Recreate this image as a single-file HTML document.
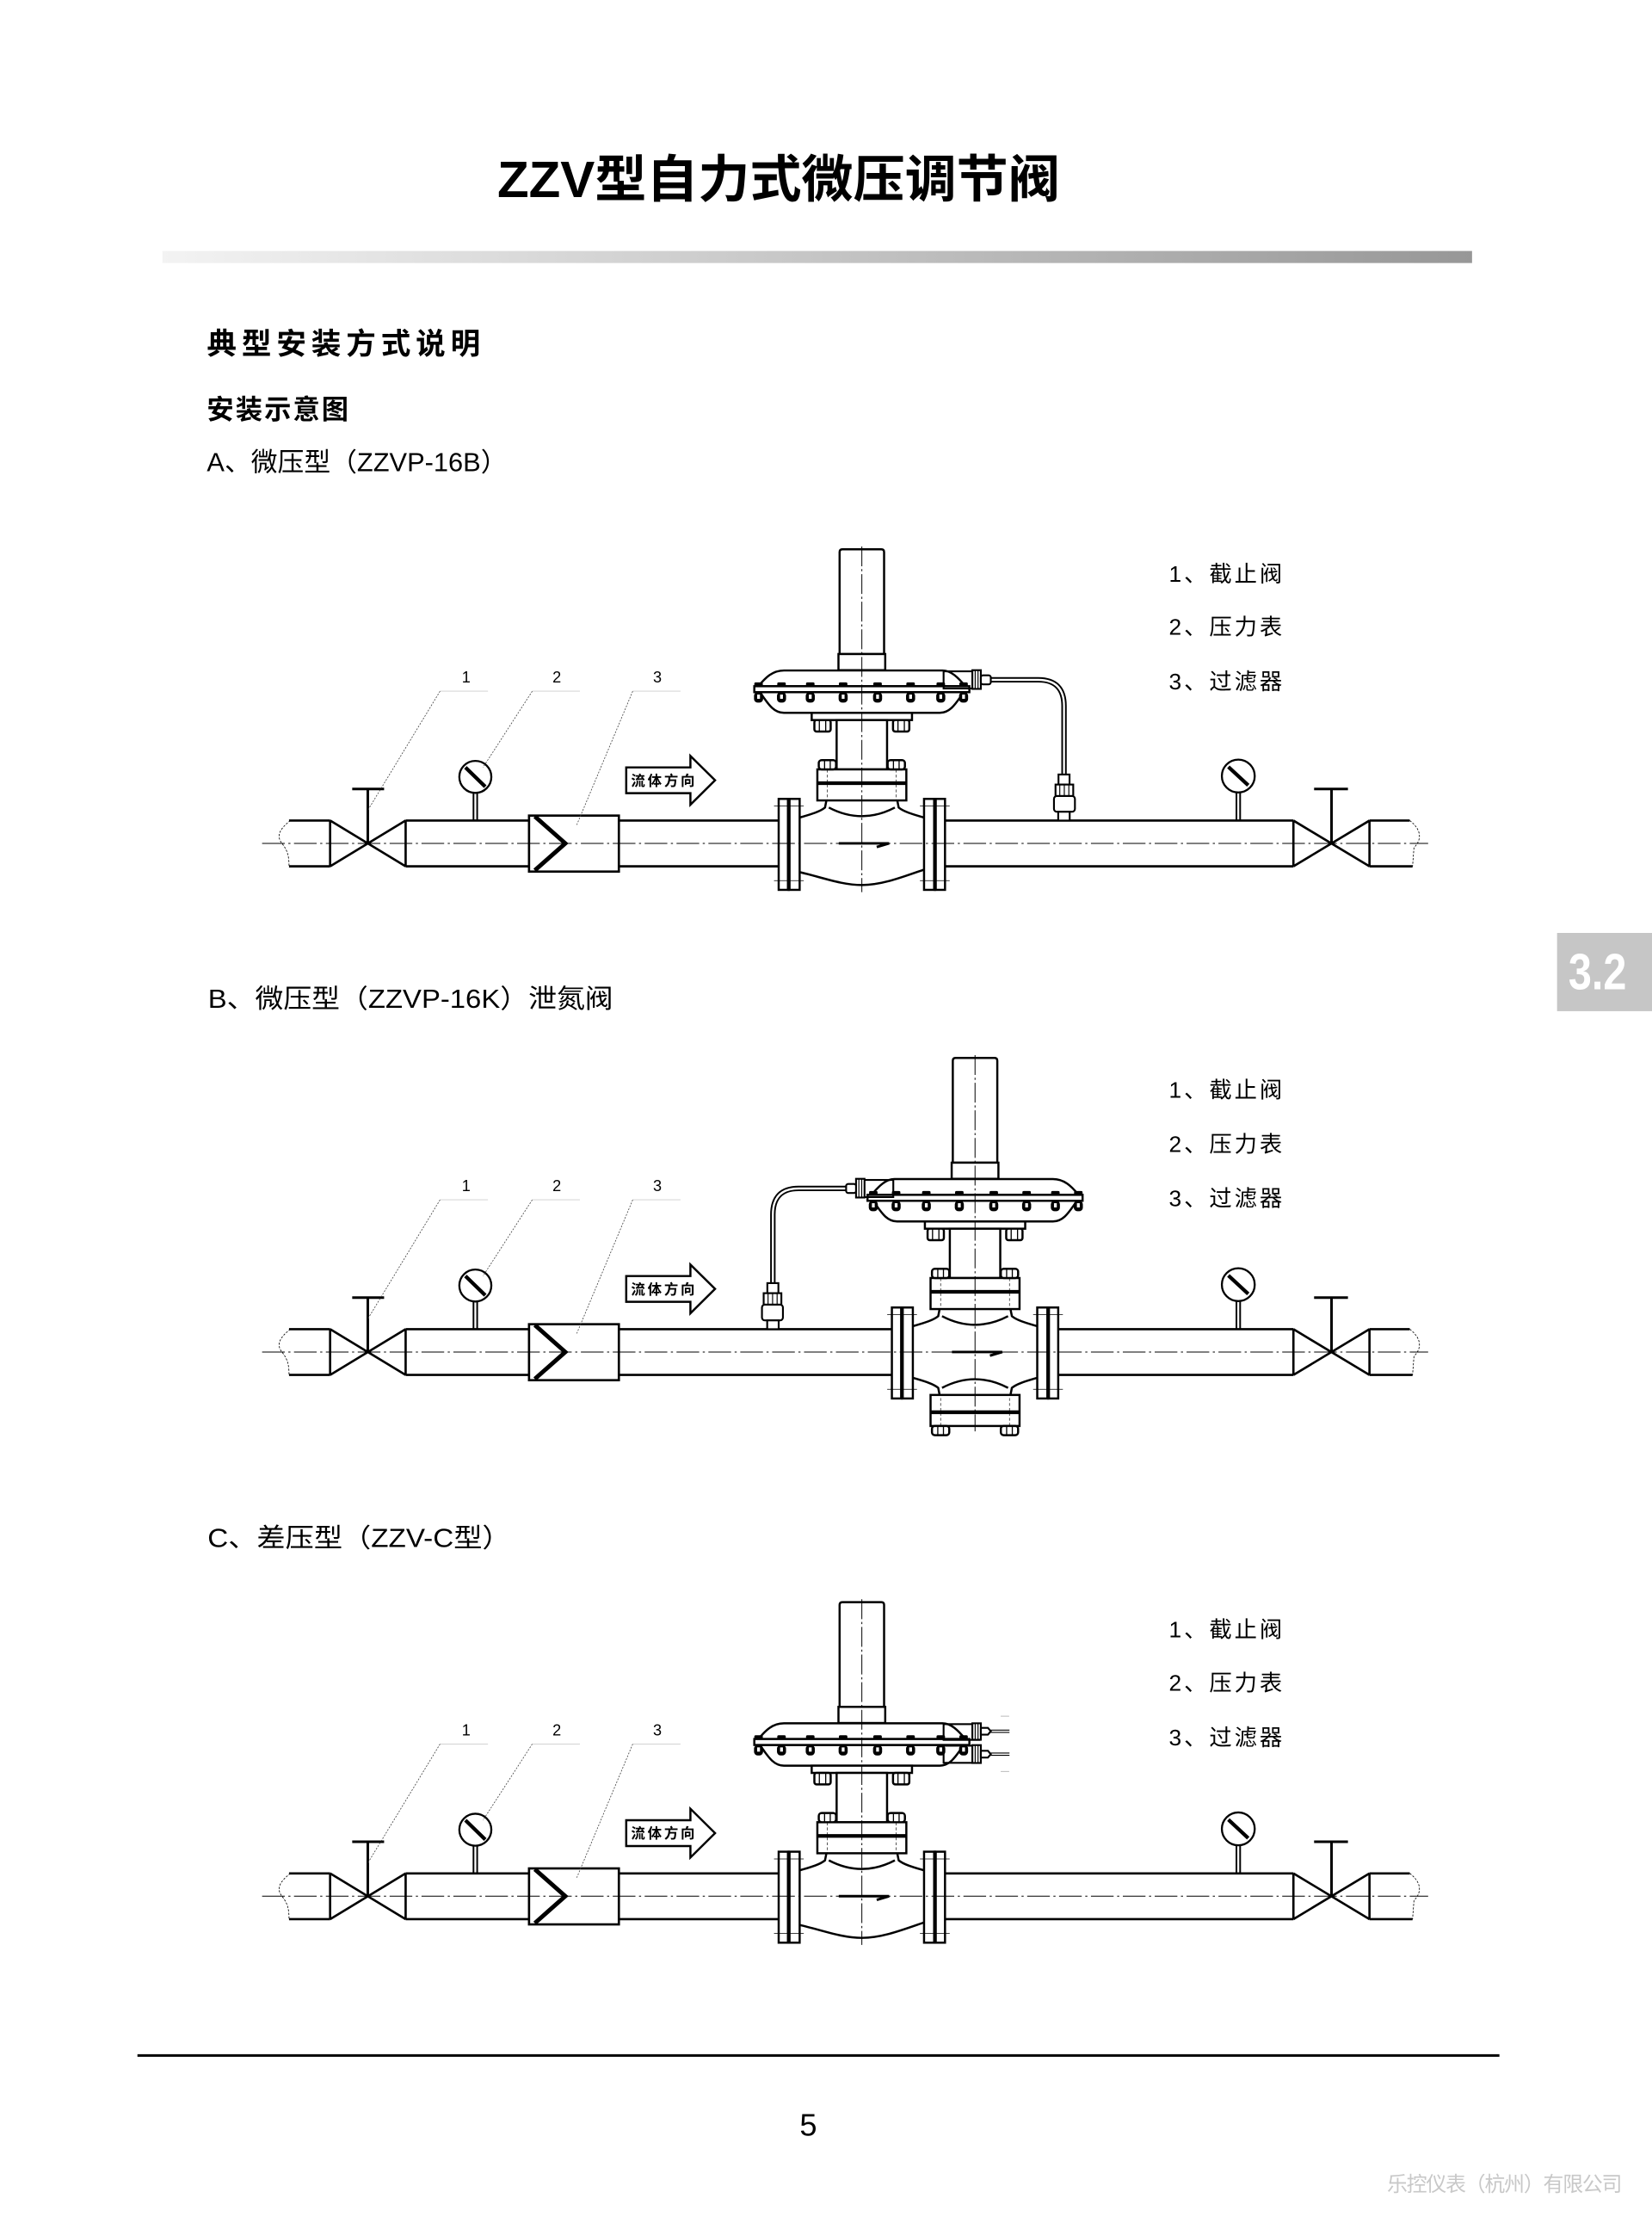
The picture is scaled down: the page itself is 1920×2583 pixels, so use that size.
<!DOCTYPE html>
<html><head><meta charset="utf-8"><style>
html,body{margin:0;padding:0;background:#fff;}
svg{display:block;}
text{font-family:"Liberation Sans","Noto Sans CJK SC",sans-serif;fill:#000;}
</style></head><body>
<svg xmlns="http://www.w3.org/2000/svg" width="1920" height="2583" viewBox="0 0 1166 1568.6" preserveAspectRatio="none">
<defs>
<linearGradient id="gb" x1="0" x2="1" y1="0" y2="0"><stop offset="0" stop-color="#f3f3f3"/><stop offset="1" stop-color="#979797"/></linearGradient>

<g id="common" fill="none" stroke="#000" stroke-width="1.6">
 <path d="M205,-16.1 C197,-10 195,-5 199,0 C203,5 204,9 204,16.2" stroke-width="0.5" stroke-dasharray="1.5 1"/>
 <path d="M204,-16.1H233M204,16.2H233M233,-16.1V16.2M286.3,-16.1V16.2M233,-16.1L286.3,16.2M233,16.2L286.3,-16.1M286.3,-16.1H373.4M286.3,16.2H373.4"/>
 <path d="M259.6,0V-38.4M248.6,-38.4H271.1" stroke-width="1.8"/>
 <path d="M334.2,-35.6V-16.1M336.8,-35.6V-16.1" stroke-width="1.2"/>
 <circle cx="335.5" cy="-46.9" r="11.3" fill="#fff" stroke-width="1.4"/>
 <path d="M328.5,-53.6L342.5,-40" stroke-width="2.6"/>
 <rect x="373.4" y="-19.6" width="63.4" height="39.5" fill="#fff"/>
 <path d="M377.5,-19L399,0L377.5,19" stroke-width="3"/>
 <polygon points="442,-53.6 487.3,-53.6 487.3,-61.7 504.7,-44.5 487.3,-27.3 487.3,-35.4 442,-35.4" fill="#fff" stroke-width="1.5"/>
 <path d="M310.6,-107.4L259.5,-23.2M375.7,-107.4L340.9,-53.6M446.6,-107.4L407.1,-13.1" stroke="#444" stroke-width="0.5" stroke-dasharray="1.2 1"/>
 <path d="M310.6,-107.4H344.4M375.7,-107.4H409.3M446.6,-107.4H480.3" stroke="#ccc" stroke-width="0.5"/>
 <path d="M912.9,-16.1V16.2M966.6,-16.1V16.2M912.9,-16.1L966.6,16.2M912.9,16.2L966.6,-16.1M966.6,-16.1H995M966.6,16.2H997"/>
 <path d="M939.8,0V-38.4M927.5,-38.4H951.4" stroke-width="1.8"/>
 <path d="M995,-16.1 C1003,-10 1004,-3 998,3 L997,16.2" stroke-width="0.5" stroke-dasharray="1.5 1"/>
 <path d="M872.7,-36V-16.1M875.3,-36V-16.1" stroke-width="1.2"/>
 <circle cx="874" cy="-47.5" r="11.6" fill="#fff" stroke-width="1.4"/>
 <path d="M867,-54L881,-41" stroke-width="2.6"/>
</g>

<g id="upper" stroke="#000" stroke-width="1.5" fill="#fff">
 <path d="M-15.7,-133.6V-205.5Q-15.7,-207.5 -13.7,-207.5H13.7Q15.7,-207.5 15.7,-205.5V-133.6Z"/>
 <rect x="-16.5" y="-133.6" width="33" height="11.4"/>
 <path d="M-73,-110.9C-68,-117 -63,-122 -55,-122H57C63,-122 68,-117 73,-110.9Z"/>
 <path d="M-72,-106.7C-67,-100 -63,-92.1 -55,-92.1H55C63,-92.1 67,-100 72,-106.7Z"/>
 <rect x="-75.9" y="-110.9" width="151.8" height="4.2"/>
 <g stroke="none">
  <rect x="-75.9" y="-113.6" width="6" height="2.7" rx="1" fill="#000"/><rect x="-76.1" y="-106.7" width="6.4" height="7.4" rx="2.6" fill="#000"/><rect x="-73.9" y="-105" width="2" height="3" fill="#fff"/>
  <rect x="-59.7" y="-113.6" width="6" height="2.7" rx="1" fill="#000"/><rect x="-59.9" y="-106.7" width="6.4" height="7.4" rx="2.6" fill="#000"/><rect x="-57.7" y="-105" width="2" height="3" fill="#fff"/>
  <rect x="-39.4" y="-113.6" width="6" height="2.7" rx="1" fill="#000"/><rect x="-39.6" y="-106.7" width="6.4" height="7.4" rx="2.6" fill="#000"/><rect x="-37.4" y="-105" width="2" height="3" fill="#fff"/>
  <rect x="-16.2" y="-113.6" width="6" height="2.7" rx="1" fill="#000"/><rect x="-16.4" y="-106.7" width="6.4" height="7.4" rx="2.6" fill="#000"/><rect x="-14.2" y="-105" width="2" height="3" fill="#fff"/>
  <rect x="8.1" y="-113.6" width="6" height="2.7" rx="1" fill="#000"/><rect x="7.9" y="-106.7" width="6.4" height="7.4" rx="2.6" fill="#000"/><rect x="10.1" y="-105" width="2" height="3" fill="#fff"/>
  <rect x="31.4" y="-113.6" width="6" height="2.7" rx="1" fill="#000"/><rect x="31.2" y="-106.7" width="6.4" height="7.4" rx="2.6" fill="#000"/><rect x="33.4" y="-105" width="2" height="3" fill="#fff"/>
  <rect x="52.7" y="-113.6" width="6" height="2.7" rx="1" fill="#000"/><rect x="52.5" y="-106.7" width="6.4" height="7.4" rx="2.6" fill="#000"/><rect x="54.7" y="-105" width="2" height="3" fill="#fff"/>
  <rect x="68.8" y="-113.6" width="6" height="2.7" rx="1" fill="#000"/><rect x="68.6" y="-106.7" width="6.4" height="7.4" rx="2.6" fill="#000"/><rect x="70.8" y="-105" width="2" height="3" fill="#fff"/>
 </g>
 <rect x="-35.4" y="-92.1" width="70.8" height="5.1"/>
 <rect x="-17.8" y="-87" width="35.6" height="34.8"/>
 <rect x="-33.5" y="-87" width="11.5" height="8.1" rx="1.5"/>
 <rect x="22" y="-87" width="11.5" height="8.1" rx="1.5"/>
 <path d="M-30,-87V-79M-25.5,-87V-79M25.5,-87V-79M30,-87V-79" stroke-width="0.8"/>
</g>

<g id="bonnet" stroke="#000" stroke-width="1.5" fill="#fff">
 <path d="M-43.9,-18.2C-38,-20 -30,-22 -26,-25.3L-25,-30.3M25,-30.3L26,-25.3C30,-22 38,-20 43.9,-18.2M-23.3,-25.3Q0,-13.1 23.3,-25.3" fill="none"/>
 <rect x="-31.4" y="-52.2" width="62.8" height="21.9"/>
 <line x1="-31.4" y1="-42.5" x2="31.4" y2="-42.5" stroke-width="2.6"/>
 <rect x="-30.4" y="-58.7" width="12.2" height="6.5" rx="2"/>
 <rect x="18.2" y="-58.7" width="12.2" height="6.5" rx="2"/>
 <path d="M-26.3,-58V-52.2M-22.3,-58V-52.2M22.3,-58V-52.2M26.3,-58V-52.2" stroke-width="0.8"/>
 <path d="M-24.3,-52V-30.5M24.3,-52V-30.5" stroke-width="0.4" stroke-dasharray="2 1.5"/>
</g>

<g id="flg" stroke="#000" stroke-width="1.5" fill="#fff">
 <rect x="-58.7" y="-31.4" width="7.1" height="64.2"/>
 <rect x="-51.6" y="-31.4" width="7.7" height="64.2"/>
 <line x1="-51.6" y1="-31.4" x2="-51.6" y2="32.8" stroke-width="2.6"/>
 <rect x="43.9" y="-31.4" width="7.7" height="64.2"/>
 <rect x="51.6" y="-31.4" width="7.1" height="64.2"/>
 <line x1="51.6" y1="-31.4" x2="51.6" y2="32.8" stroke-width="2.6"/>
 <path d="M-62,-26.3H-41M41,-26.3H62M-62,26.3H-41M41,26.3H62" stroke-width="0.45"/>
</g>

<path id="bodyBot" d="M-43.9,20.3C-28,24 -14,29.4 0,29.4C14,29.4 28,24 43.9,18.5" fill="none" stroke="#000" stroke-width="1.5"/>
<path id="farrow" d="M-16.3,0H19.2L10.5,2.6" fill="none" stroke="#000" stroke-width="1.8"/>

<g id="tube" stroke="#000" stroke-width="1.3" fill="#fff">
 <rect x="57.7" y="-121.4" width="25.3" height="12.1" fill="none"/>
 <path d="M91,-115.4H124.5Q142.7,-115.4 142.7,-97V-48.6" fill="none" stroke-width="3.8"/>
 <path d="M91,-115.4H124.5Q142.7,-115.4 142.7,-97V-48.6" fill="none" stroke="#fff" stroke-width="1.4"/>
 <rect x="78" y="-122.2" width="6" height="13.2"/>
 <path d="M80,-122V-109M82,-122V-109" stroke-width="0.7"/>
 <rect x="84" y="-118.6" width="7" height="6.4" rx="1.5"/>
 <rect x="138.8" y="-48.6" width="7.8" height="7.1"/>
 <rect x="136.7" y="-41.5" width="12.5" height="8.1"/>
 <path d="M139.7,-41.5V-33.4M142.9,-41.5V-33.4M146.1,-41.5V-33.4" stroke-width="0.7"/>
 <rect x="135.6" y="-33.4" width="14.8" height="11.1" rx="2"/>
 <rect x="138.6" y="-22.3" width="8.1" height="6.2"/>
</g>

<g id="portsC" stroke="#000" stroke-width="1.3" fill="#fff">
 <rect x="57.7" y="-121.4" width="25.3" height="11.1" fill="none"/>
 <rect x="57.7" y="-106.2" width="25.3" height="12.1" fill="none"/>
 <rect x="78" y="-122" width="6" height="11.6"/>
 <rect x="78" y="-106.6" width="6" height="12.6"/>
 <path d="M80,-122V-110.4M82,-122V-110.4M80,-106.6V-94M82,-106.6V-94" stroke-width="0.7"/>
 <path d="M84,-118.8h5l2,2.4l-2,2.4h-5z M84,-102.6h5l2,2.4l-2,2.4h-5z"/>
 <path d="M91,-117.2H104.2M91,-115.6H104.2M91,-101H104.2M91,-99.4H104.2" stroke-width="0.7"/>
 <path d="M98,-127H104M98,-88H104" stroke="#bbb" stroke-width="0.6"/>
</g>
</defs>

<!-- Header -->
<text x="351" y="139" font-size="36" font-weight="700" textLength="397" lengthAdjust="spacingAndGlyphs">ZZV型自力式微压调节阀</text>
<rect x="114.6" y="177.1" width="924.4" height="8.5" fill="url(#gb)"/>
<text x="146" y="250" font-size="21" font-weight="700" textLength="193" lengthAdjust="spacing">典型安装方式说明</text>
<text x="146" y="295.5" font-size="19" font-weight="700" textLength="100" lengthAdjust="spacing">安装示意图</text>
<text x="146" y="332.5" font-size="18.5" textLength="212" lengthAdjust="spacingAndGlyphs">A、微压型（ZZVP-16B）</text>

<!-- Side tab -->
<rect x="1099" y="658.3" width="67" height="55.2" fill="#c6c6c6"/>
<text x="1107" y="698" font-size="36" font-weight="700" textLength="41" lengthAdjust="spacingAndGlyphs" style="fill:#fff">3.2</text>

<!-- ============ Diagram A ============ -->
<use href="#common" transform="translate(0,595.1)"/>
<path d="M436.8,579H549.6M436.8,611.3H549.6M667,579H912.9M667,611.3H912.9" stroke="#000" stroke-width="1.6" fill="none"/>
<g transform="translate(608.3,595.1)">
 <use href="#upper"/>
 <use href="#tube"/>
 <use href="#bonnet"/>
 <use href="#bodyBot"/>
 <use href="#flg"/>
 <use href="#farrow"/>
 <line x1="0" y1="-209.5" x2="0" y2="34.4" stroke="#000" stroke-width="0.6" stroke-dasharray="14 2 1.5 2"/>
</g>
<line x1="185" y1="595.1" x2="1008" y2="595.1" stroke="#000" stroke-width="0.6" stroke-dasharray="16 2.5 1.5 2.5"/>
<text x="329" y="481.6" font-size="11" text-anchor="middle">1</text>
<text x="393" y="481.6" font-size="11" text-anchor="middle">2</text>
<text x="464" y="481.6" font-size="11" text-anchor="middle">3</text>
<text x="445.4" y="554.3" font-size="10" font-weight="700" textLength="45" lengthAdjust="spacing">流体方向</text>
<text x="825" y="410.5" font-size="16" textLength="80" lengthAdjust="spacing">1、截止阀</text>
<text x="825" y="448" font-size="16" textLength="80" lengthAdjust="spacing">2、压力表</text>
<text x="825" y="486.5" font-size="16" textLength="80" lengthAdjust="spacing">3、过滤器</text>

<!-- ============ Diagram B ============ -->
<text x="146.8" y="711" font-size="18.5" textLength="286" lengthAdjust="spacingAndGlyphs">B、微压型（ZZVP-16K）泄氮阀</text>
<use href="#common" transform="translate(0,954)"/>
<path d="M436.8,937.9H629.5M436.8,970.2H629.5M746.9,937.9H912.9M746.9,970.2H912.9" stroke="#000" stroke-width="1.6" fill="none"/>
<g transform="translate(688.2,954)">
 <g transform="scale(-1,1)">
  <use href="#upper"/>
  <use href="#tube"/>
  <use href="#bonnet"/>
 </g>
 <g transform="scale(1,-1)">
  <use href="#bonnet"/>
 </g>
 <use href="#flg"/>
 <use href="#farrow"/>
 <line x1="0" y1="-209.5" x2="0" y2="56" stroke="#000" stroke-width="0.6" stroke-dasharray="14 2 1.5 2"/>
</g>
<line x1="185" y1="954" x2="1008" y2="954" stroke="#000" stroke-width="0.6" stroke-dasharray="16 2.5 1.5 2.5"/>
<text x="329" y="840.5" font-size="11" text-anchor="middle">1</text>
<text x="393" y="840.5" font-size="11" text-anchor="middle">2</text>
<text x="464" y="840.5" font-size="11" text-anchor="middle">3</text>
<text x="445.4" y="913.2" font-size="10" font-weight="700" textLength="45" lengthAdjust="spacing">流体方向</text>
<text x="825" y="774.5" font-size="16" textLength="80" lengthAdjust="spacing">1、截止阀</text>
<text x="825" y="813" font-size="16" textLength="80" lengthAdjust="spacing">2、压力表</text>
<text x="825" y="851" font-size="16" textLength="80" lengthAdjust="spacing">3、过滤器</text>

<!-- ============ Diagram C ============ -->
<text x="146.5" y="1091.5" font-size="18.5" textLength="214" lengthAdjust="spacingAndGlyphs">C、差压型（ZZV-C型）</text>
<use href="#common" transform="translate(0,1338)"/>
<path d="M436.8,1321.9H549.6M436.8,1354.2H549.6M667,1321.9H912.9M667,1354.2H912.9" stroke="#000" stroke-width="1.6" fill="none"/>
<g transform="translate(608.3,1338)">
 <use href="#upper"/>
 <use href="#portsC"/>
 <use href="#bonnet"/>
 <use href="#bodyBot"/>
 <use href="#flg"/>
 <use href="#farrow"/>
 <line x1="0" y1="-209.5" x2="0" y2="34.4" stroke="#000" stroke-width="0.6" stroke-dasharray="14 2 1.5 2"/>
</g>
<line x1="185" y1="1338" x2="1008" y2="1338" stroke="#000" stroke-width="0.6" stroke-dasharray="16 2.5 1.5 2.5"/>
<text x="329" y="1224.5" font-size="11" text-anchor="middle">1</text>
<text x="393" y="1224.5" font-size="11" text-anchor="middle">2</text>
<text x="464" y="1224.5" font-size="11" text-anchor="middle">3</text>
<text x="445.4" y="1297.2" font-size="10" font-weight="700" textLength="45" lengthAdjust="spacing">流体方向</text>
<text x="825" y="1155.5" font-size="16" textLength="80" lengthAdjust="spacing">1、截止阀</text>
<text x="825" y="1193" font-size="16" textLength="80" lengthAdjust="spacing">2、压力表</text>
<text x="825" y="1231.5" font-size="16" textLength="80" lengthAdjust="spacing">3、过滤器</text>

<!-- Footer -->
<line x1="97" y1="1450.4" x2="1058.3" y2="1450.4" stroke="#000" stroke-width="1.8"/>
<text x="570.5" y="1507" font-size="22" text-anchor="middle">5</text>
<text x="979" y="1546" font-size="14.5" textLength="166" lengthAdjust="spacing" style="fill:#c8c8c8">乐控仪表（杭州）有限公司</text>
</svg>
</body></html>
